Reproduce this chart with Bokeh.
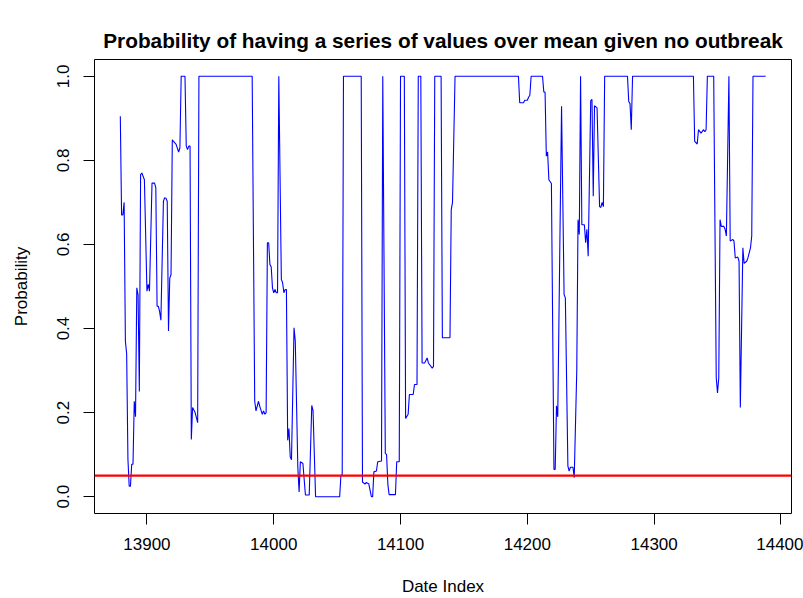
from bokeh.plotting import figure
from bokeh.models import Range1d, FixedTicker, Span
from bokeh.embed import file_html
from bokeh.resources import INLINE

# ---- data (vertices of the probability series) ----
date_index = [
    13879, 13880, 13881, 13882, 13883, 13884, 13885, 13886, 13887, 13888,
    13889, 13890, 13891, 13892, 13893, 13894, 13895, 13896, 13898, 13900,
    13901, 13902, 13904, 13906, 13907, 13908, 13909, 13910, 13911, 13913,
    13914, 13915, 13916, 13917, 13918, 13919, 13920, 13921, 13923, 13925,
    13926, 13927, 13930, 13931, 13932, 13933, 13934, 13935, 13936, 13938,
    13940, 13941, 13983, 13985, 13986, 13988, 13989, 13991, 13992, 13993,
    13994, 13995, 13996, 13997, 13998, 13999, 14000, 14001, 14002, 14003,
    14004, 14006, 14007, 14008, 14009, 14010, 14011, 14012, 14013, 14014,
    14016, 14017, 14019, 14020, 14021, 14023, 14025, 14028, 14030, 14031,
    14033, 14052, 14053, 14054, 14055, 14069, 14070, 14072, 14073, 14075,
    14077, 14078, 14079, 14081, 14082, 14085, 14086, 14088, 14089, 14090,
    14091, 14096, 14097, 14099, 14100, 14103, 14104, 14106, 14107, 14110,
    14111, 14113, 14114, 14116, 14117, 14119, 14121, 14122, 14125, 14126,
    14127, 14132, 14133, 14139, 14140, 14141, 14143, 14193, 14194, 14197,
    14198, 14200, 14201, 14202, 14203, 14212, 14213, 14214, 14215, 14216,
    14217, 14219, 14221, 14222, 14223, 14224, 14227, 14229, 14230, 14232,
    14233, 14234, 14236, 14237, 14239, 14240, 14241, 14242, 14243, 14245,
    14246, 14247, 14248, 14250, 14251, 14252, 14253, 14255, 14257, 14258,
    14259, 14260, 14261, 14279, 14280, 14281, 14282, 14283, 14331, 14332,
    14334, 14335, 14337, 14339, 14340, 14341, 14342, 14347, 14349, 14350,
    14351, 14352, 14353, 14355, 14356, 14357, 14359, 14360, 14362, 14363,
    14364, 14366, 14367, 14368, 14370, 14371, 14373, 14374, 14376, 14377,
    14378, 14388,
]
probability = [
    0.905, 0.67, 0.67, 0.70, 0.37, 0.34, 0.09, 0.025, 0.025, 0.077,
    0.077, 0.227, 0.19, 0.497, 0.48, 0.25, 0.766, 0.77, 0.754, 0.489,
    0.505, 0.489, 0.746, 0.746, 0.735, 0.453, 0.453, 0.44, 0.42, 0.703,
    0.711, 0.71, 0.703, 0.394, 0.52, 0.528, 0.849, 0.845, 0.838, 0.82,
    0.83, 1.0, 1.0, 0.834, 0.826, 0.834, 0.834, 0.136, 0.212, 0.20,
    0.176, 1.0, 1.0, 0.227, 0.204, 0.227, 0.215, 0.196, 0.204, 0.196,
    0.20, 0.604, 0.604, 0.552, 0.547, 0.497, 0.485, 0.493, 0.485, 0.485,
    1.0, 0.517, 0.509, 0.485, 0.493, 0.493, 0.134, 0.162, 0.095, 0.088,
    0.402, 0.37, 0.07, 0.011, 0.083, 0.079, 0.004, 0.004, 0.217, 0.205,
    0.0, 0.0, 0.051, 0.052, 1.0, 1.0, 0.035, 0.03, 0.034, 0.03,
    0.0, 0.0, 0.059, 0.061, 0.083, 0.085, 1.0, 0.103, 0.10, 0.03,
    0.005, 0.005, 0.083, 0.083, 1.0, 1.0, 0.186, 0.196, 0.243, 0.243,
    0.267, 0.267, 1.0, 1.0, 0.318, 0.318, 0.33, 0.318, 0.306, 0.31,
    1.0, 1.0, 0.378, 0.378, 0.683, 0.70, 1.0, 1.0, 0.937, 0.937,
    0.943, 0.943, 0.95, 0.955, 1.0, 1.0, 0.963, 0.962, 0.81, 0.82,
    0.754, 0.745, 0.065, 0.065, 0.216, 0.19, 0.929, 0.481, 0.473, 0.073,
    0.061, 0.07, 0.07, 0.045, 0.30, 0.659, 0.624, 1.0, 0.647, 0.647,
    0.604, 0.636, 0.572, 0.942, 0.945, 0.715, 0.93, 0.925, 0.69, 0.688,
    0.70, 0.69, 1.0, 1.0, 0.94, 0.935, 0.873, 1.0, 1.0, 0.845,
    0.839, 0.873, 0.865, 0.873, 0.868, 0.873, 1.0, 1.0, 0.283, 0.247,
    0.283, 0.659, 0.643, 0.643, 0.636, 0.62, 1.0, 0.608, 0.612, 0.608,
    0.568, 0.57, 0.56, 0.212, 0.592, 0.555, 0.56, 0.568, 0.592, 0.62,
    1.0, 1.0,
]
threshold = 0.05

x_ticks = [13900, 14000, 14100, 14200, 14300, 14400]
x_tick_labels = ["13900", "14000", "14100", "14200", "14300", "14400"]
y_ticks = [0.0, 0.2, 0.4, 0.6, 0.8, 1.0]
y_tick_labels = ["0.0", "0.2", "0.4", "0.6", "0.8", "1.0"]

title_text = "Probability of having a series of values over mean given no outbreak"
x_title = "Date Index"
y_title = "Probability"

FONT = "Liberation Sans"

xmin, xmax = min(date_index), max(date_index)
xpad = 0.04 * (xmax - xmin)

p = figure(
    width=803, height=598,
    output_backend="svg", toolbar_location=None,
    x_range=Range1d(xmin - xpad, xmax + xpad),
    y_range=Range1d(-0.04, 1.04),
    min_border_left=94, min_border_right=12,
    min_border_top=59, min_border_bottom=85,
    title=title_text,
)
p.title.align = "center"
p.title.text_font = FONT
p.title.text_font_size = "20.8px"
p.title.text_font_style = "bold"
p.title.text_color = "black"
p.title.standoff = 15

p.background_fill_color = "white"
p.border_fill_color = "white"
p.outline_line_color = "black"
p.outline_line_width = 1
p.xgrid.visible = False
p.ygrid.visible = False

p.line(date_index, probability, line_color="#0000FF", line_width=1.1)
p.add_layout(Span(location=threshold, dimension="width",
                  line_color="#FF0000", line_width=2.2))

for ax in (p.xaxis[0], p.yaxis[0]):
    ax.axis_line_color = None
    ax.major_tick_line_color = "black"
    ax.major_tick_out = 11
    ax.major_tick_in = 0
    ax.minor_tick_line_color = None
    ax.major_label_text_font = FONT
    ax.major_label_text_font_size = "17px"
    ax.major_label_text_color = "black"
    ax.axis_label_text_font = FONT
    ax.axis_label_text_font_size = "17px"
    ax.axis_label_text_font_style = "normal"
    ax.axis_label_text_color = "black"

p.xaxis.ticker = FixedTicker(ticks=x_ticks)
p.xaxis.major_label_overrides = dict(zip(x_ticks, x_tick_labels))
p.xaxis.major_label_standoff = 13
p.xaxis.axis_label = x_title
p.xaxis.axis_label_standoff = 24

p.yaxis.ticker = FixedTicker(ticks=y_ticks)
p.yaxis.major_label_overrides = dict(zip(y_ticks, y_tick_labels))
p.yaxis.major_label_orientation = "vertical"
p.yaxis.major_label_standoff = 14
p.yaxis.axis_label = y_title
p.yaxis.axis_label_standoff = 24

open("out.html", "w").write(file_html(p, INLINE))
